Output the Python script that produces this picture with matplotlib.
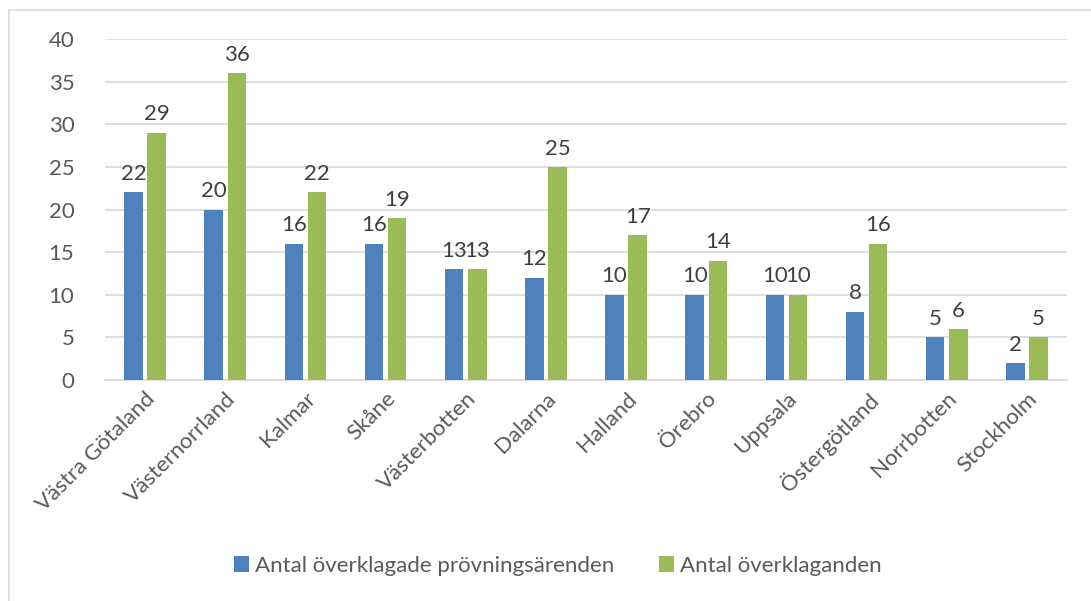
import numpy as np
import matplotlib.pyplot as plt
from matplotlib.patches import Rectangle

# data
regions = ['Västra Götaland', 'Västernorrland', 'Kalmar', 'Skåne', 'Västerbotten',
           'Dalarna', 'Halland', 'Örebro', 'Uppsala', 'Östergötland', 'Norrbotten', 'Stockholm']
arenden = [22, 20, 16, 16, 13, 12, 10, 10, 10, 8, 5, 2]
overklaganden = [29, 36, 22, 19, 13, 25, 17, 14, 10, 16, 6, 5]
series_names = ['Antal överklagade prövningsärenden', 'Antal överklaganden']

plt.rcParams['font.family'] = ['Lato', 'DejaVu Sans']
txt = '#595959'
fs = 16

fig = plt.figure(figsize=(10.91, 6.01), dpi=100)
ax = fig.add_axes([105/1091, 1 - 380/601, (1067-105)/1091, (380-39)/601])

# ram runt diagrammet
fig.patches.append(Rectangle((9/1091, -0.1), 1.2, 1 - 10/601 + 0.1, transform=fig.transFigure,
                             fill=False, edgecolor='#d9d9d9', linewidth=1.2))

x = np.arange(len(regions))
w = 0.23
b1 = ax.bar(x - 0.145, arenden, w, color='#4f81bd', label=series_names[0], zorder=3)
b2 = ax.bar(x + 0.145, overklaganden, w, color='#9bbb59', label=series_names[1], zorder=3)
ax.bar_label(b1, padding=6, fontsize=fs, color='#404040')
ax.bar_label(b2, padding=6, fontsize=fs, color='#404040')

ax.set_xlim(-0.5, len(regions) - 0.5)
ax.set_ylim(0, 40)
ax.set_yticks(range(0, 41, 5))
ax.yaxis.grid(True, color='#d9d9d9', linewidth=1.2, zorder=0)
ax.set_axisbelow(True)
for s in ['top', 'right', 'left']:
    ax.spines[s].set_visible(False)
ax.spines['bottom'].set_color('#d9d9d9')
ax.spines['bottom'].set_linewidth(1.2)
ax.tick_params(length=0, colors=txt, labelsize=fs)
ax.tick_params(axis='y', pad=22)
ax.tick_params(axis='x', pad=6)
ax.set_xticks(x)
ax.set_xticklabels(regions, rotation=45, ha='right', rotation_mode='anchor')

fig.legend(handles=[b1, b2], loc='center', bbox_to_anchor=(0.511, 1 - 566/601), ncol=2,
           frameon=False, fontsize=fs, labelcolor=txt, handlelength=0.7, handleheight=0.7,
           columnspacing=2.0, handletextpad=0.25)

fig.savefig('out.png', dpi=100)
